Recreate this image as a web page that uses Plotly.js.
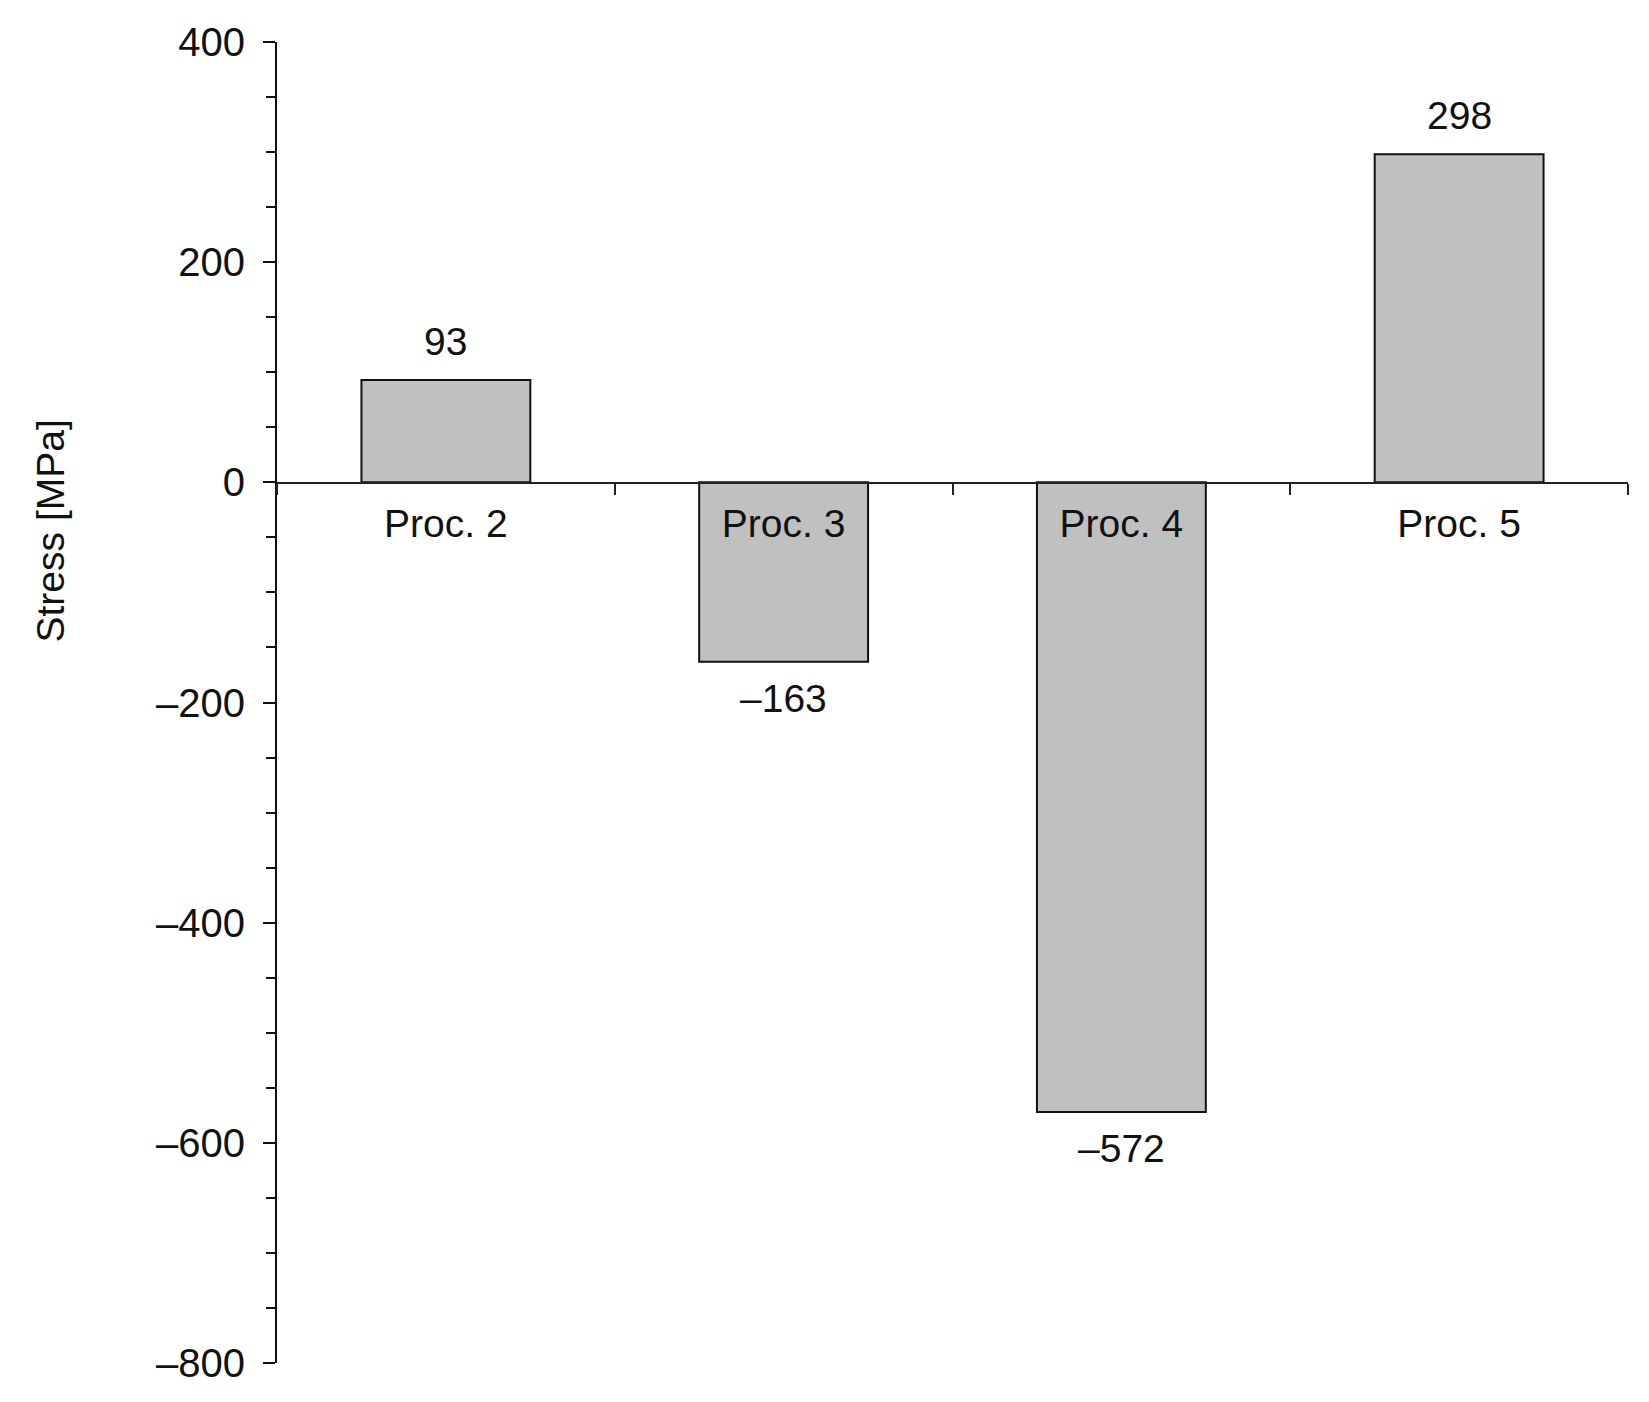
<!DOCTYPE html>
<html>
<head>
<meta charset="utf-8">
<script src="https://cdn.plot.ly/plotly-3.0.1.min.js"></script>
<style>html,body{margin:0;padding:0;background:#fff;}#chart{width:1649px;height:1402px;}</style>
</head>
<body>
<div id="chart"></div>
<script>
var categories = ["Proc. 2", "Proc. 3", "Proc. 4", "Proc. 5"];
var stress = [93, -163, -572, 298];
var yTickVals = [400, 200, 0, -200, -400, -600, -800];
var yTickText = ["400", "200", "0", "\u2013200", "\u2013400", "\u2013600", "\u2013800"];
var yTitle = "Stress [MPa]";

function fmt(v) { return v < 0 ? "\u2013" + Math.abs(v) : String(v); }

var font = "Liberation Sans, Arial, Helvetica, sans-serif";

var trace = {
  type: "bar",
  x: categories,
  y: stress,
  width: 0.5,
  marker: { color: "#c0c0c0", line: { color: "#111111", width: 2 } },
  hoverinfo: "x+y"
};

var annotations = stress.map(function (v, i) {
  return {
    x: categories[i], y: v, xref: "x", yref: "y",
    text: fmt(v), showarrow: false,
    yanchor: v >= 0 ? "bottom" : "top",
    yshift: v >= 0 ? 15 : -13,
    font: { family: font, size: 39, color: "#111111" }
  };
});

annotations.push({
  xref: "paper", yref: "paper",
  x: -0.1675, y: 0.63,
  xanchor: "center", yanchor: "middle",
  text: yTitle, textangle: -90, showarrow: false,
  font: { family: font, size: 39, color: "#111111" }
});

var layout = {
  width: 1649, height: 1402,
  margin: { l: 277, r: 21, t: 42, b: 39 },
  paper_bgcolor: "#ffffff", plot_bgcolor: "#ffffff",
  showlegend: false,
  font: { family: font, size: 39, color: "#111111" },
  xaxis: {
    type: "category",
    range: [-0.5, 3.5],
    anchor: "free",
    position: 2 / 3,
    showline: true, linecolor: "#222222", linewidth: 1.5,
    showgrid: false, zeroline: false,
    ticks: "outside", tickson: "boundaries", ticklen: 11, tickwidth: 2, tickcolor: "#222222",
    ticklabelstandoff: 6,
    tickfont: { family: font, size: 39, color: "#111111" }
  },
  yaxis: {
    range: [-800, 400],
    domain: [0, 1],
    showline: true, linecolor: "#111111", linewidth: 2,
    showgrid: false, zeroline: false,
    tickmode: "array", tickvals: yTickVals, ticktext: yTickText,
    ticks: "outside", ticklen: 12, tickwidth: 2, tickcolor: "#111111",
    ticklabelstandoff: 10,
    tickfont: { family: font, size: 40, color: "#111111" },
    minor: { dtick: 50, tick0: 0, ticks: "outside", ticklen: 9, tickwidth: 2, tickcolor: "#111111", showgrid: false }
  },
  annotations: annotations
};

Plotly.newPlot("chart", [trace], layout, { displayModeBar: false, staticPlot: true });
</script>
</body>
</html>
